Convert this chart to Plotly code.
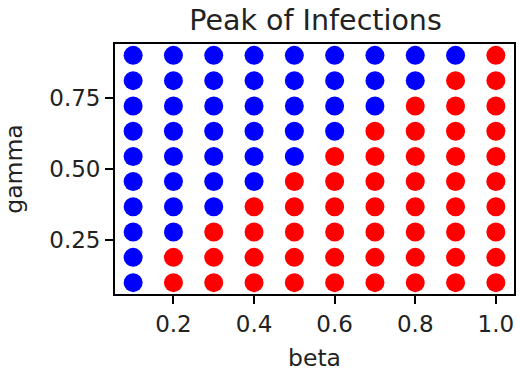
import plotly.graph_objects as go

# Grid of transmission (beta) and recovery (gamma) rates
beta = [0.1, 0.2, 0.3, 0.4, 0.5, 0.6, 0.7, 0.8, 0.9, 1.0]
gamma = [0.1, 0.189, 0.278, 0.367, 0.456, 0.544, 0.633, 0.722, 0.811, 0.9]

# 1 = an infection peak occurs, 0 = no peak; one row per gamma (bottom to top)
peak = [
    [0, 1, 1, 1, 1, 1, 1, 1, 1, 1],
    [0, 1, 1, 1, 1, 1, 1, 1, 1, 1],
    [0, 0, 1, 1, 1, 1, 1, 1, 1, 1],
    [0, 0, 0, 1, 1, 1, 1, 1, 1, 1],
    [0, 0, 0, 0, 1, 1, 1, 1, 1, 1],
    [0, 0, 0, 0, 0, 1, 1, 1, 1, 1],
    [0, 0, 0, 0, 0, 0, 1, 1, 1, 1],
    [0, 0, 0, 0, 0, 0, 0, 1, 1, 1],
    [0, 0, 0, 0, 0, 0, 0, 0, 1, 1],
    [0, 0, 0, 0, 0, 0, 0, 0, 0, 1],
]

x_ticks = [0.2, 0.4, 0.6, 0.8, 1.0]
x_labels = ["0.2", "0.4", "0.6", "0.8", "1.0"]
y_ticks = [0.25, 0.50, 0.75]
y_labels = ["0.25", "0.50", "0.75"]

xs, ys, colors = [], [], []
for gi, g in enumerate(gamma):
    for bi, b in enumerate(beta):
        xs.append(b)
        ys.append(g)
        colors.append("#ff0000" if peak[gi][bi] else "#0000ff")

FONT = "DejaVu Sans"
TEXT = "#222222"
fig = go.Figure(
    go.Scatter(
        x=xs, y=ys, mode="markers",
        marker=dict(size=19, color=colors, line=dict(width=0)),
        showlegend=False, hoverinfo="skip",
    )
)

axis_common = dict(
    showgrid=False, zeroline=False,
    showline=True, linecolor="black", linewidth=1.8, mirror=True,
    ticks="outside", ticklen=8, tickwidth=1.8, tickcolor="black",
    tickfont=dict(family=FONT, size=23, color=TEXT),
)

fig.update_layout(
    width=519, height=372,
    margin=dict(l=115, r=3, t=44, b=78),
    paper_bgcolor="white", plot_bgcolor="white",
    font=dict(family=FONT, color=TEXT),
    title=dict(
        text="Peak of Infections", x=0.608, xanchor="center",
        yref="container", y=1 - 20.5 / 372, yanchor="middle",
        font=dict(family=FONT, size=28.5, color=TEXT),
    ),
    xaxis=dict(
        range=[0.055, 1.045], tickvals=x_ticks, ticktext=x_labels,
        title=dict(text="beta", font=dict(family=FONT, size=23.5, color=TEXT), standoff=16),
        **axis_common,
    ),
    yaxis=dict(
        range=[0.06, 0.94], tickvals=y_ticks, ticktext=y_labels,
        title=dict(text="gamma", font=dict(family=FONT, size=23.5, color=TEXT), standoff=20),
        **axis_common,
    ),
)

fig.write_html("out.html")
